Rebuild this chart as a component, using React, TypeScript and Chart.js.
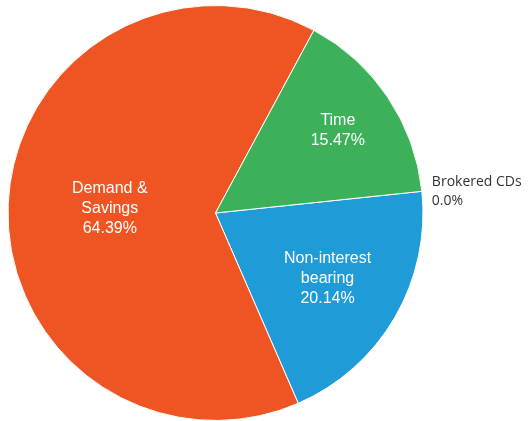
import React, { useEffect, useRef } from "react";
import { Chart, registerables } from "chart.js";

Chart.register(...registerables);

const categories: string[][] = [
  ["Non-interest", "bearing"],
  ["Demand &", "Savings"],
  ["Time"],
  ["Brokered CDs"],
];
const values: number[] = [20.14, 64.39, 15.47, 0.0];
const valueLabels: string[] = ["20.14%", "64.39%", "15.47%", "0.0%"];
const colors: string[] = ["#1F9BD8", "#EF5523", "#3CB15A", "#8E44AD"];

const labelRadius = [0.625, 0.51, 0.71, 1];

const labelPlugin = {
  id: "sliceLabels",
  afterDatasetsDraw(chart: any) {
    const ctx = chart.ctx;
    const meta = chart.getDatasetMeta(0);
    meta.data.forEach((arc: any, i: number) => {
      const { x, y, startAngle, endAngle, outerRadius } = arc.getProps(
        ["x", "y", "startAngle", "endAngle", "outerRadius"],
        true
      );
      const lines = [...categories[i], valueLabels[i]];
      ctx.save();
      if (values[i] === 0) {
        const a = startAngle;
        const px = x + Math.cos(a) * outerRadius + 10;
        const py = y + Math.sin(a) * outerRadius;
        ctx.font = "14px 'Open Sans'";
        ctx.fillStyle = "#333333";
        ctx.textAlign = "left";
        ctx.textBaseline = "middle";
        const lh = 19;
        const top = py - ((lines.length - 1) * lh) / 2;
        lines.forEach((t, k) => ctx.fillText(t, px, top + k * lh));
      } else {
        const mid = (startAngle + endAngle) / 2;
        const r = outerRadius * labelRadius[i];
        const px = x + Math.cos(mid) * r;
        const py = y + Math.sin(mid) * r;
        ctx.font = "16px 'Liberation Sans', Arial, sans-serif";
        ctx.fillStyle = "#FFFFFF";
        ctx.textAlign = "center";
        ctx.textBaseline = "middle";
        const lh = 20;
        const top = py - ((lines.length - 1) * lh) / 2;
        lines.forEach((t, k) => ctx.fillText(t, px, top + k * lh));
      }
      ctx.restore();
    });
  },
};

export default function App() {
  const ref = useRef<HTMLCanvasElement | null>(null);
  useEffect(() => {
    if (!ref.current) return;
    const chart = new Chart(ref.current, {
      type: "pie",
      data: {
        labels: categories.map((c) => c.join(" ")),
        datasets: [
          {
            data: values,
            backgroundColor: colors,
            borderColor: "#FFFFFF",
            borderWidth: 1,
          },
        ],
      },
      options: {
        animation: false,
        responsive: true,
        maintainAspectRatio: false,
        rotation: 84,
        layout: { padding: { left: 7, top: 5, right: 104, bottom: 0 } },
        plugins: {
          legend: { display: false },
          tooltip: { enabled: false },
        },
      },
      plugins: [labelPlugin],
    });
    return () => chart.destroy();
  }, []);
  return (
    <div
      style={{
        position: "absolute",
        left: 0,
        top: 0,
        width: 528,
        height: 421,
        background: "#FFFFFF",
      }}
    >
      <canvas ref={ref} />
    </div>
  );
}
